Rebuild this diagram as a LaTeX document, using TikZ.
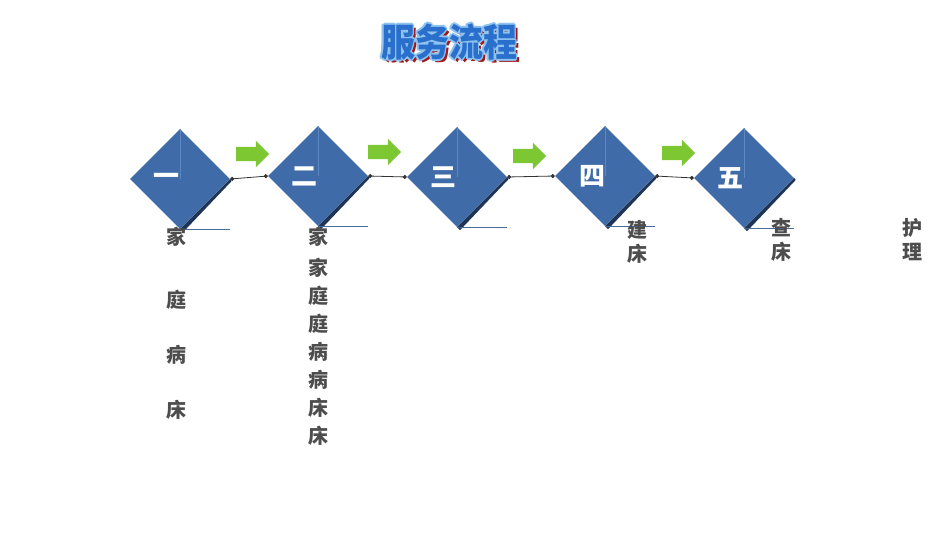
\documentclass[tikz,border=0pt]{standalone}
\usepackage{fontspec}
\newfontfamily\cjk{Noto Sans CJK SC}
\usepackage{xcolor}
\usetikzlibrary{shapes.geometric,shapes.arrows,arrows.meta,positioning}
\definecolor{dblue}{HTML}{3F6CA8}
\definecolor{dshade}{HTML}{1E3558}
\definecolor{dline}{HTML}{5E88C2}
\definecolor{agreen}{HTML}{7DC832}
\definecolor{lgray}{HTML}{333333}
\definecolor{ublue}{HTML}{4A6B9A}
\definecolor{tgray}{HTML}{4D4D4D}
\definecolor{tblue}{HTML}{2A6FCC}
\definecolor{tline}{HTML}{8EC3F0}
\definecolor{tred}{HTML}{A01818}

\begin{document}
\begin{tikzpicture}[x=1pt,y=-1pt]
  \tikzset{ d/.style={diamond,fill=dblue,minimum width=100pt,minimum height=100pt,inner sep=0pt},
    num/.style={white,font=\cjk\bfseries\fontsize{26}{30}\selectfont,inner sep=0pt},
    go/.style={single arrow,fill=agreen,minimum height=33pt,minimum width=26pt,single arrow head extend=6pt,inner sep=7pt},
    link/.style={draw=lgray,line width=0.8pt,{Circle[length=4pt]}-{Circle[length=4pt]}},
    uline/.style={draw=ublue,line width=0.8pt},
    col/.style={text=tgray,align=center,anchor=north,inner sep=0pt},
    ttl/.style={font=\cjk\bfseries\fontsize{34}{40}\selectfont,inner sep=0pt,yscale=1.12},
  }
  \useasboundingbox[fill=white] (0,0) rectangle (950,535);

  % title
  \node[ttl,text=tred] (ts) at (452,45) {服务流程};
  \foreach \a in {0,45,...,315}
    \node[ttl,text=tline] (o\a) at ([shift={(\a:1.6)}]449,42) {服务流程};
  \node[ttl,text=tblue] (title) at (449,42) {服务流程};

  % the steps
  \node[d] (1) at (180,179) {};
  \node[d] (2) at (318,176) {};
  \node[d] (3) at (457,177) {};
  \node[d] (4) at (605,176) {};
  \node[d] (5) at (744,178) {};
  \foreach \i in {1,...,5} {
    \fill[dshade] (\i.east) -- ([shift={(1.5,2)}]\i.east) -- ([shift={(3,3)}]\i.south) -- (\i.south) -- cycle;
    \draw[dline,line width=0.6pt] (\i.north) -- (\i.center);
    \draw[uline] (\i.south) -- (\i.east |- \i.south);
  }
  \node[num] (n1) at ([xshift=-14pt]1.center) {一};
  \node[num] (n2) at ([xshift=-14pt]2.center) {二};
  \node[num] (n3) at ([xshift=-14pt]3.center) {三};
  \node[num] (n4) at ([xshift=-13pt]4.center) {四};
  \node[num] (n5) at ([xshift=-14pt]5.center) {五};

  % the connection between the steps
  \draw[link] (1.east) -- (2.west);
  \draw[link] (2.east) -- (3.west);
  \draw[link] (3.east) -- (4.west);
  \draw[link] (4.east) -- (5.west);

  \node[go] (a1) at (249,154) {};
  \node[go] (a2) at (381,152) {};
  \node[go] (a3) at (526,156) {};
  \node[go] (a4) at (675,153) {};

  % texts under the steps
  \node[col,font=\cjk\bfseries\fontsize{20}{55}\selectfont] (c1) at (176,227) {家\\[8pt]庭\\病\\床};
  \node[col,font=\cjk\bfseries\fontsize{20}{28}\selectfont] (c2) at (318,227) {家\\[3pt]家\\庭\\庭\\病\\病\\床\\床};
  \node[col,font=\cjk\bfseries\fontsize{20}{24.5}\selectfont] (c4) at (637,220) {建\\床};
  \node[col,font=\cjk\bfseries\fontsize{20}{24.5}\selectfont] (c5) at (781,218) {查\\床};
  \node[col,font=\cjk\bfseries\fontsize{20}{24.5}\selectfont] (c6) at (912,218) {护\\理};
\end{tikzpicture}
\end{document}
